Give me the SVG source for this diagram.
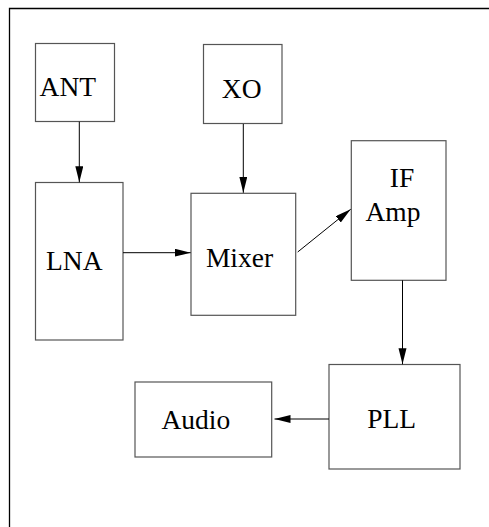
<svg xmlns="http://www.w3.org/2000/svg" width="489" height="527" viewBox="0 0 489 527">
<defs>
<marker id="ah" markerUnits="userSpaceOnUse" markerWidth="18" markerHeight="10" refX="16" refY="4" orient="auto">
<path d="M0,0 L16,4 L0,8 Z" fill="#000"/>
</marker>
</defs>
<style>
.box{fill:#fff;stroke:#555;stroke-width:1.2}
.lbl{font-family:"Liberation Serif","Times New Roman",serif;font-size:27.5px;fill:#000;text-anchor:middle}
.con{stroke:#000;stroke-width:1;fill:none;marker-end:url(#ah)}
</style>
<rect width="489" height="527" fill="#fff"/>
<path d="M9.5,527 L9.5,8.5 L489,8.5" fill="none" stroke="#000" stroke-width="1.3"/>
<g id="ANT"><rect class="box" x="35.5" y="43.5" width="79" height="78"/><text class="lbl" x="67.8" y="96">ANT</text></g>
<g id="XO"><rect class="box" x="203.5" y="44.5" width="78.5" height="79"/><text class="lbl" x="241.7" y="98.3">XO</text></g>
<g id="LNA"><rect class="box" x="35.5" y="182.5" width="87.5" height="157.5"/><text class="lbl" x="74.3" y="270">LNA</text></g>
<g id="Mixer"><rect class="box" x="191" y="193.3" width="104.7" height="122"/><text class="lbl" x="239.5" y="266.7">Mixer</text></g>
<g id="IFAmp"><rect class="box" x="351.3" y="140.7" width="94.7" height="139.6"/><text class="lbl" x="402" y="187.3">IF</text><text class="lbl" x="393" y="221">Amp</text></g>
<g id="PLL"><rect class="box" x="329" y="364.5" width="131" height="104.5"/><text class="lbl" x="391.7" y="428.3">PLL</text></g>
<g id="Audio"><rect class="box" x="135" y="382" width="136.7" height="75"/><text class="lbl" x="195.8" y="429">Audio</text></g>
<g id="connectors">
<line class="con" x1="79.3" y1="121.7" x2="79.3" y2="182.3"/>
<line class="con" x1="243.3" y1="124" x2="243.3" y2="192.8"/>
<line class="con" x1="123" y1="252.7" x2="190.7" y2="252.7"/>
<line class="con" x1="297.7" y1="252" x2="350.7" y2="209.3"/>
<line class="con" x1="402.5" y1="280.3" x2="402.5" y2="364.3"/>
<line class="con" x1="329" y1="419" x2="274.5" y2="419"/>
</g>
</svg>
